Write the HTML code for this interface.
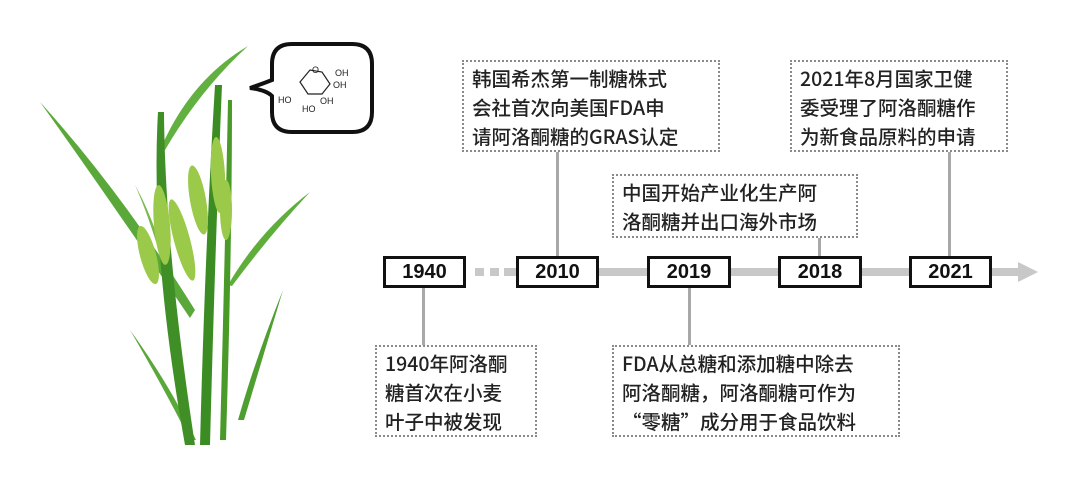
<!DOCTYPE html>
<html><head><meta charset="utf-8"><style>
body{margin:0;width:1080px;height:489px;background:#fff;position:relative;overflow:hidden;font-family:"Noto Sans CJK SC","Liberation Sans",sans-serif}
.b{position:absolute;border:2px dotted #8a8a8a;color:#222;font-size:19.5px;line-height:29px;padding:1px 0 0 8px;box-sizing:border-box;font-weight:500;white-space:nowrap}
.y{position:absolute;top:256px;height:32px;border:3px solid #111;background:#fff;box-sizing:border-box;font-weight:bold;font-size:20px;text-align:center;line-height:26px;color:#111;font-family:"Liberation Sans",sans-serif}
.v{position:absolute;width:3px;background:#a8a8a8}
</style></head><body>
<svg width="1080" height="489" style="position:absolute;left:0;top:0">
<g>
<path d="M40,102 Q120,190 195,310 L190,318 Q110,200 40,102Z" fill="#5aa83a"/>
<path d="M248,46 Q190,80 160,150 L165,150 Q200,90 248,46Z" fill="#62b040"/>
<path d="M310,192 Q260,230 228,285 L232,286 Q270,235 310,192Z" fill="#5fae3c"/>
<path d="M283,290 Q255,360 238,420 L244,420 Q262,360 283,290Z" fill="#4f9e30"/>
<path d="M130,330 Q165,390 190,440 L196,440 Q170,385 130,330Z" fill="#5aa83a"/>
<path d="M135,185 Q160,230 175,300 L172,300 Q155,230 135,185Z" fill="#7ab850"/>
<path d="M158,112 Q150,250 185,445 L195,445 Q165,250 164,112Z" fill="#3f8f26"/>
<path d="M215,85 Q205,250 200,445 L210,445 Q215,250 222,85Z" fill="#3c8c24"/>
<path d="M228,100 Q225,250 220,440 L226,440 Q232,250 232,100Z" fill="#4a9a2a"/>
</g>
<g fill="#9bc94a">
<ellipse cx="148" cy="255" rx="8" ry="30" transform="rotate(-15 148 255)"/>
<ellipse cx="162" cy="225" rx="8" ry="40" transform="rotate(-5 162 225)"/>
<ellipse cx="182" cy="240" rx="8" ry="42" transform="rotate(-15 182 240)"/>
<ellipse cx="198" cy="200" rx="8" ry="35" transform="rotate(-10 198 200)"/>
<ellipse cx="218" cy="175" rx="7" ry="38" transform="rotate(-3 218 175)"/>
<ellipse cx="226" cy="210" rx="6" ry="30"/>
</g>
<path d="M292,44 L352,44 Q372,44 372,64 L372,112 Q372,132 352,132 L292,132 Q272,132 272,112 L272,96 Q266,90 250,88 Q262,84 272,80 L272,64 Q272,44 292,44Z" fill="#fff" stroke="#111" stroke-width="4"/>
<g stroke="#222" stroke-width="1.2" fill="none"><path d="M300,82 L310,70 L322,72 L330,84 L322,94 L308,94 Z"/></g>
<g font-size="9" fill="#222" font-family="Liberation Sans"><text x="278" y="103">HO</text><text x="312" y="73">O</text><text x="335" y="76">OH</text><text x="333" y="88">OH</text><text x="320" y="104">OH</text><text x="302" y="112">HO</text></g>
<g fill="#c8c8c8"><rect x="475" y="268" width="9" height="8"/><rect x="490" y="268" width="9" height="8"/><rect x="504" y="268" width="12" height="8"/>
<rect x="599" y="268" width="420" height="8"/><path d="M1018,262 L1038,272 L1018,282Z"/></g>
</svg>
<div class="v" style="left:556px;top:152px;height:104px"></div>
<div class="v" style="left:818px;top:238px;height:18px"></div>
<div class="v" style="left:948px;top:152px;height:104px"></div>
<div class="v" style="left:422px;top:288px;height:57px"></div>
<div class="v" style="left:688px;top:288px;height:57px"></div>
<div class="y" style="left:383px;width:83px">1940</div>
<div class="y" style="left:516px;width:83px">2010</div>
<div class="y" style="left:647px;width:84px">2019</div>
<div class="y" style="left:778px;width:84px">2018</div>
<div class="y" style="left:909px;width:83px">2021</div>
<div class="b" style="left:462px;top:60px;width:258px;height:92px">韩国希杰第一制糖株式<br>会社首次向美国FDA申<br>请阿洛酮糖的GRAS认定</div>
<div class="b" style="left:612px;top:174px;width:246px;height:64px">中国开始产业化生产阿<br>洛酮糖并出口海外市场</div>
<div class="b" style="left:790px;top:60px;width:218px;height:92px">2021年8月国家卫健<br>委受理了阿洛酮糖作<br>为新食品原料的申请</div>
<div class="b" style="left:375px;top:345px;width:162px;height:92px">1940年阿洛酮<br>糖首次在小麦<br>叶子中被发现</div>
<div class="b" style="left:612px;top:345px;width:288px;height:92px">FDA从总糖和添加糖中除去<br>阿洛酮糖，阿洛酮糖可作为<br>“零糖”成分用于食品饮料</div>
</body></html>
